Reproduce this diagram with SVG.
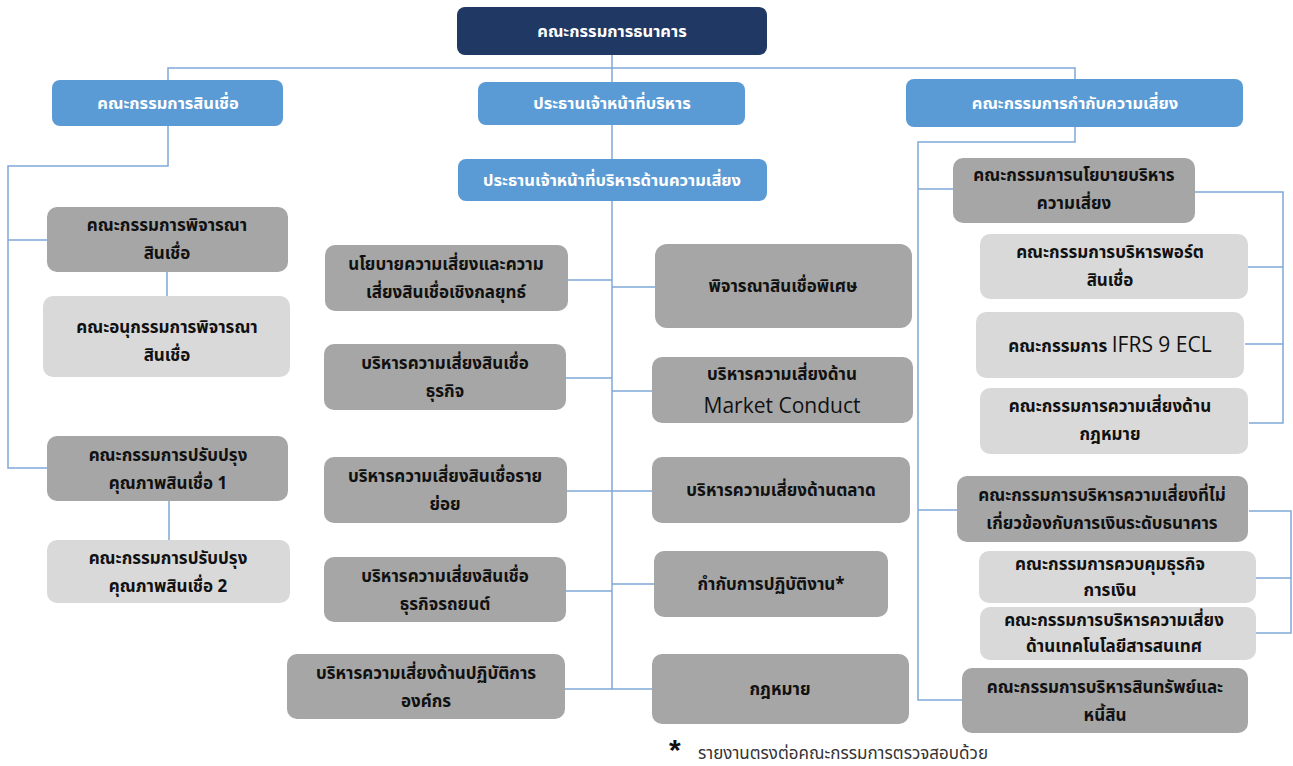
<svg xmlns="http://www.w3.org/2000/svg" width="1293" height="766" viewBox="0 0 1293 766">
<style>
.navy{fill:#203864}
.blue{fill:#5b9bd5}
.dark{fill:#a6a6a6}
.light{fill:#d9d9d9}
text{font-family:"Noto Sans Thai","Tahoma","Noto Sans","DejaVu Sans",sans-serif;font-size:17px;font-weight:bold;text-anchor:middle;fill:#111}
.w{fill:#ffffff;font-size:16.5px}
.en{font-family:"Open Sans","Liberation Sans",sans-serif;font-weight:normal;font-size:21px;fill:#111}
.note{font-weight:normal;font-size:17px;text-anchor:start;fill:#333}
.star{font-family:"Liberation Sans",sans-serif;font-size:30px;text-anchor:start;fill:#111}
.ln{fill:none;stroke:#7fa8d6;stroke-width:1.5}
</style>
<rect width="1293" height="766" fill="#ffffff"/>
<g id="connectors" class="ln">
<path d="M612 55V689"/>
<path d="M168 80V68H1075V79"/>
<path d="M168 126V166H8V468H47M8 240H47"/>
<path d="M167 272V296M169 501V540"/>
<path d="M568 280H612M566 378H612M567 491H612M566 591H612M565 689H612"/>
<path d="M612 287H655M612 391H652M612 491H652M612 584H654M612 689H652"/>
<path d="M1075 127V142H918V700H962M918 189H953M918 510H957"/>
<path d="M1195 192H1283V423H1249M1248 267H1283M1245 344H1283"/>
<path d="M1249 511H1291V633H1256M1256 578H1291"/>
</g>
<g id="n-board"><rect class="navy" x="457" y="7" width="310" height="48" rx="8"/><text class="w" x="612" y="37">คณะกรรมการธนาคาร</text></g>
<g id="n-credit"><rect class="blue" x="52" y="80" width="231" height="46" rx="8"/><text class="w" x="168" y="109">คณะกรรมการสินเชื่อ</text></g>
<g id="n-ceo"><rect class="blue" x="478" y="82" width="267" height="43" rx="8"/><text class="w" x="612" y="109">ประธานเจ้าหน้าที่บริหาร</text></g>
<g id="n-riskov"><rect class="blue" x="906" y="79" width="337" height="48" rx="8"/><text class="w" x="1075" y="109">คณะกรรมการกำกับความเสี่ยง</text></g>
<g id="n-cro"><rect class="blue" x="458" y="159" width="309" height="42" rx="8"/><text class="w" x="612" y="186">ประธานเจ้าหน้าที่บริหารด้านความเสี่ยง</text></g>

<g id="n-l1"><rect class="dark" x="47" y="207" width="241" height="65" rx="10"/><text x="167" y="231">คณะกรรมการพิจารณา</text><text x="167" y="259">สินเชื่อ</text></g>
<g id="n-l2"><rect class="light" x="43" y="296" width="247" height="81" rx="10"/><text x="167" y="333">คณะอนุกรรมการพิจารณา</text><text x="167" y="361">สินเชื่อ</text></g>
<g id="n-l3"><rect class="dark" x="47" y="436" width="241" height="65" rx="10"/><text x="168" y="461">คณะกรรมการปรับปรุง</text><text x="168" y="489">คุณภาพสินเชื่อ 1</text></g>
<g id="n-l4"><rect class="light" x="47" y="540" width="243" height="63" rx="10"/><text x="168" y="564">คณะกรรมการปรับปรุง</text><text x="168" y="592">คุณภาพสินเชื่อ 2</text></g>

<g id="n-c1"><rect class="dark" x="325" y="245" width="243" height="66" rx="10"/><text x="446" y="270">นโยบายความเสี่ยงและความ</text><text x="446" y="298">เสี่ยงสินเชื่อเชิงกลยุทธ์</text></g>
<g id="n-c2"><rect class="dark" x="324" y="344" width="242" height="66" rx="10"/><text x="445" y="369">บริหารความเสี่ยงสินเชื่อ</text><text x="445" y="397">ธุรกิจ</text></g>
<g id="n-c3"><rect class="dark" x="324" y="457" width="243" height="66" rx="10"/><text x="445" y="482">บริหารความเสี่ยงสินเชื่อราย</text><text x="445" y="510">ย่อย</text></g>
<g id="n-c4"><rect class="dark" x="324" y="557" width="242" height="65" rx="10"/><text x="445" y="582">บริหารความเสี่ยงสินเชื่อ</text><text x="445" y="610">ธุรกิจรถยนต์</text></g>
<g id="n-c5"><rect class="dark" x="287" y="654" width="278" height="65" rx="10"/><text x="426" y="679">บริหารความเสี่ยงด้านปฏิบัติการ</text><text x="426" y="707">องค์กร</text></g>

<g id="n-r1"><rect class="dark" x="655" y="244" width="257" height="84" rx="12"/><text x="783" y="292">พิจารณาสินเชื่อพิเศษ</text></g>
<g id="n-r2"><rect class="dark" x="652" y="357" width="261" height="66" rx="10"/><text x="782" y="380">บริหารความเสี่ยงด้าน</text><text class="en" x="782" y="413">Market Conduct</text></g>
<g id="n-r3"><rect class="dark" x="652" y="457" width="258" height="66" rx="10"/><text x="781" y="496">บริหารความเสี่ยงด้านตลาด</text></g>
<g id="n-r4"><rect class="dark" x="654" y="551" width="234" height="66" rx="10"/><text x="771" y="590">กำกับการปฏิบัติงาน*</text></g>
<g id="n-r5"><rect class="dark" x="652" y="654" width="257" height="70" rx="10"/><text x="780" y="695">กฎหมาย</text></g>

<g id="n-p1"><rect class="dark" x="953" y="158" width="242" height="65" rx="10"/><text x="1074" y="181">คณะกรรมการนโยบายบริหาร</text><text x="1074" y="209">ความเสี่ยง</text></g>
<g id="n-p2"><rect class="light" x="980" y="234" width="268" height="65" rx="10"/><text x="1110" y="258">คณะกรรมการบริหารพอร์ต</text><text x="1110" y="286">สินเชื่อ</text></g>
<g id="n-p3"><rect class="light" x="976" y="312" width="268" height="66" rx="10"/><text x="1110" y="352"><tspan>คณะกรรมการ </tspan><tspan class="en">IFRS 9 ECL</tspan></text></g>
<g id="n-p4"><rect class="light" x="980" y="388" width="268" height="66" rx="10"/><text x="1110" y="412">คณะกรรมการความเสี่ยงด้าน</text><text x="1110" y="440">กฎหมาย</text></g>
<g id="n-n1"><rect class="dark" x="957" y="476" width="291" height="66" rx="10"/><text x="1102" y="501">คณะกรรมการบริหารความเสี่ยงที่ไม่</text><text x="1102" y="529">เกี่ยวข้องกับการเงินระดับธนาคาร</text></g>
<g id="n-n2"><rect class="light" x="979" y="551" width="277" height="52" rx="10"/><text x="1110" y="570">คณะกรรมการควบคุมธุรกิจ</text><text x="1110" y="596">การเงิน</text></g>
<g id="n-n3"><rect class="light" x="980" y="607" width="276" height="53" rx="10"/><text x="1114" y="626">คณะกรรมการบริหารความเสี่ยง</text><text x="1114" y="652">ด้านเทคโนโลยีสารสนเทศ</text></g>
<g id="n-a1"><rect class="dark" x="962" y="668" width="286" height="65" rx="10"/><text x="1105" y="693">คณะกรรมการบริหารสินทรัพย์และ</text><text x="1105" y="721">หนี้สิน</text></g>

<g id="footnote"><text class="star" x="669" y="760">*</text><text class="note" x="698" y="759">รายงานตรงต่อคณะกรรมการตรวจสอบด้วย</text></g>
</svg>
